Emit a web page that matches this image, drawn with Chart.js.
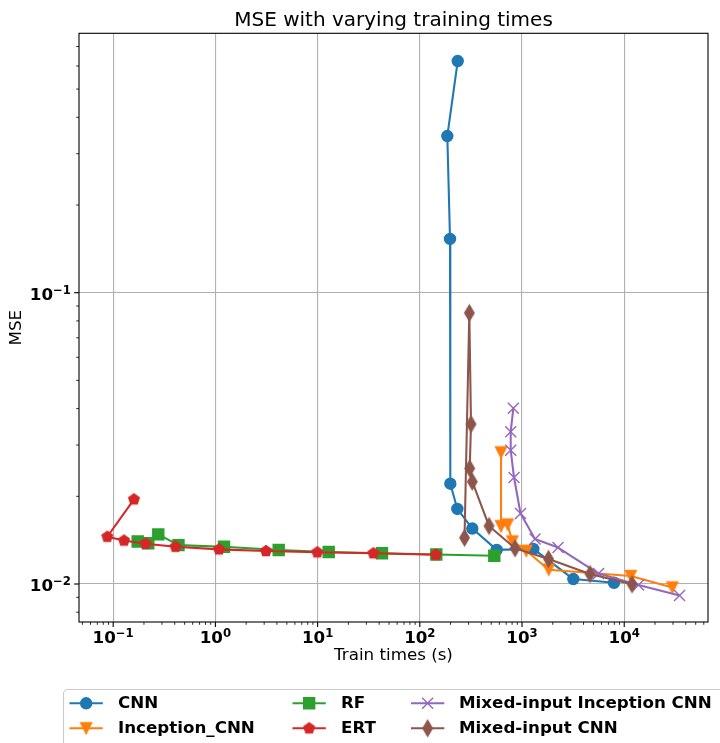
<!DOCTYPE html>
<html>
<head>
<meta charset="utf-8">
<script src="https://cdn.jsdelivr.net/npm/chart.js@4.4.0/dist/chart.umd.min.js"></script>
<style>
  html, body { margin: 0; padding: 0; background: #ffffff; }
  #wrap { width: 720px; height: 743px; position: relative; overflow: hidden; }
</style>
</head>
<body>
<div id="wrap"><canvas id="chart" width="720" height="743"></canvas></div>
<script>
// Training time (seconds) and test MSE for each model
const cnnTime     = [234.9, 185.8, 197.5, 198.8, 232.8, 326.3, 565.5, 1290, 3177, 7943];
const cnnMse      = [0.624, 0.345, 0.153, 0.0221, 0.0181, 0.0155, 0.0131, 0.0132, 0.0104, 0.0101];

const incTime     = [623, 623, 724, 804, 1101, 1825, 11580, 29540];
const incMse      = [0.0283, 0.0158, 0.0160, 0.0140, 0.0130, 0.0112, 0.01065, 0.00973];

const rfTime      = [0.1737, 0.2204, 0.2763, 0.4355, 1.214, 4.163, 12.84, 42.66, 145.0, 535.6];
const rfMse       = [0.0140, 0.0138, 0.0148, 0.0136, 0.01343, 0.01308, 0.01288, 0.01275, 0.01263, 0.0125];

const ertTime     = [0.1598, 0.08755, 0.1276, 0.207, 0.4071, 1.084, 3.127, 9.934, 35.08, 144.0];
const ertMse      = [0.01953, 0.01453, 0.0141, 0.01375, 0.01343, 0.01315, 0.01298, 0.01285, 0.01275, 0.01261];

const mixIncTime  = [822, 775, 775, 835, 967, 1340, 2250, 5605, 13800, 34750];
const mixIncMse   = [0.0401, 0.0333, 0.0288, 0.0232, 0.01746, 0.01427, 0.01334, 0.01086, 0.00992, 0.00913];

const mixCnnTime  = [273.8, 305.0, 316.9, 307.8, 326.3, 475.3, 854.1, 1817, 4628, 11920];
const mixCnnMse   = [0.01441, 0.0852, 0.0354, 0.02495, 0.02245, 0.01582, 0.01326, 0.01219, 0.01082, 0.00998];

// Labelled decade ticks: base and exponent
const xTickValues = [0.1, 1, 10, 100, 1000, 10000];
const xTickExps   = ['\u22121', '0', '1', '2', '3', '4'];
const yTickValues = [0.01, 0.1];
const yTickExps   = ['\u22122', '\u22121'];
const tickBase    = '10';

const FONT = 'DejaVu Sans';
const FS = 16.7;
const SUP = 11.7;

function zip(xs, ys) { return xs.map((x, i) => ({ x: x, y: ys[i] })); }

function isDecade(v) {
  const l = Math.log10(v);
  return Math.abs(l - Math.round(l)) < 1e-9;
}

// Major (10^n) and minor (k*10^n) tick values between lo and hi
function logTicks(lo, hi) {
  const out = [];
  for (let e = Math.floor(Math.log10(lo)) - 1; e <= Math.ceil(Math.log10(hi)); e++) {
    for (let k = 1; k <= 9; k++) {
      const v = k * Math.pow(10, e);
      if (v >= lo && v <= hi) out.push(v);
    }
  }
  return out;
}

function expFor(values, exps, v) {
  const i = values.findIndex(t => Math.abs(t - v) / t < 1e-9);
  return i >= 0 ? exps[i] : null;
}

// Small canvases for marker shapes Chart.js does not provide
function markerCanvas(color, halfW, halfH, path) {
  const lw = 1.4;
  const w = Math.ceil(2 * (halfW + lw)) + 2;
  const h = Math.ceil(2 * (halfH + lw)) + 2;
  const c = document.createElement('canvas');
  c.width = w; c.height = h;
  const g = c.getContext('2d');
  g.translate(w / 2, h / 2);
  g.fillStyle = color; g.strokeStyle = color;
  g.lineWidth = lw; g.lineJoin = 'miter';
  g.beginPath(); path(g); g.closePath();
  g.fill(); g.stroke();
  return c;
}
const MS = 11; // marker size in px
const triDown = markerCanvas('#ff7f0e', MS / 2, MS / 2, g => {
  g.moveTo(0, MS / 2); g.lineTo(-MS / 2, -MS / 2); g.lineTo(MS / 2, -MS / 2);
});
const pentagon = markerCanvas('#d62728', MS / 2, MS / 2, g => {
  for (let k = 0; k < 5; k++) {
    const a = -Math.PI / 2 + k * 2 * Math.PI / 5;
    const px = (MS / 2) * Math.cos(a), py = (MS / 2) * Math.sin(a);
    if (k === 0) g.moveTo(px, py); else g.lineTo(px, py);
  }
});
const hh = MS * Math.SQRT1_2, hw = 0.6 * hh;
const thinDiamond = markerCanvas('#8c564b', hw, hh, g => {
  g.moveTo(0, -hh); g.lineTo(hw, 0); g.lineTo(0, hh); g.lineTo(-hw, 0);
});

function series(label, xs, ys, color, style, radius, order) {
  return {
    label: label,
    data: zip(xs, ys),
    borderColor: color,
    backgroundColor: color,
    borderWidth: 2.08,
    borderJoinStyle: 'round',
    pointStyle: style,
    pointRadius: radius,
    pointHoverRadius: radius,
    pointBorderWidth: 1.4,
    pointBorderColor: color,
    pointBackgroundColor: color,
    tension: 0,
    order: order
  };
}

const datasets = [
  series('CNN', cnnTime, cnnMse, '#1f77b4', 'circle', MS / 2, 6),
  series('Inception_CNN', incTime, incMse, '#ff7f0e', triDown, MS / 2, 5),
  series('RF', rfTime, rfMse, '#2ca02c', 'rect', MS * Math.SQRT1_2, 4),
  series('ERT', ertTime, ertMse, '#d62728', pentagon, MS / 2, 3),
  series('Mixed-input Inception CNN', mixIncTime, mixIncMse, '#9467bd', 'crossRot', MS * Math.SQRT1_2, 2),
  series('Mixed-input CNN', mixCnnTime, mixCnnMse, '#8c564b', thinDiamond, MS / 2, 1)
];

// Width of "10" plus a superscript exponent
function powerWidth(ctx, exp) {
  ctx.font = 'bold ' + FS + 'px "' + FONT + '"';
  const wb = ctx.measureText(tickBase).width;
  ctx.font = 'bold ' + SUP + 'px "' + FONT + '"';
  const we = ctx.measureText(exp).width;
  return { wb: wb, we: we, total: wb + we };
}
function drawPower(ctx, exp, left, baseline) {
  const m = powerWidth(ctx, exp);
  ctx.textAlign = 'left';
  ctx.textBaseline = 'alphabetic';
  ctx.font = 'bold ' + FS + 'px "' + FONT + '"';
  ctx.fillText(tickBase, left, baseline);
  ctx.font = 'bold ' + SUP + 'px "' + FONT + '"';
  ctx.fillText(exp, left + m.wb, baseline - 6);
}

// Axes frame, outward tick marks and decade labels
const framePlugin = {
  id: 'frameAndTicks',
  afterDatasetsDraw(chart) {
    const { ctx, chartArea: a } = chart;
    ctx.save();
    ctx.strokeStyle = '#000';
    ctx.fillStyle = '#000';
    ctx.lineWidth = 1.1;
    ctx.strokeRect(a.left, a.top, a.right - a.left, a.bottom - a.top);
    const xs = chart.scales.x, ys = chart.scales.y;
    xs.ticks.forEach(t => {
      const p = xs.getPixelForValue(t.value);
      const major = isDecade(t.value);
      ctx.lineWidth = major ? 1.1 : 0.83;
      ctx.beginPath();
      ctx.moveTo(p, a.bottom);
      ctx.lineTo(p, a.bottom + (major ? 4.9 : 2.8));
      ctx.stroke();
      const e = expFor(xTickValues, xTickExps, t.value);
      if (e !== null) {
        const m = powerWidth(ctx, e);
        drawPower(ctx, e, p - m.total / 2, a.bottom + 20.5);
      }
    });
    ys.ticks.forEach(t => {
      const p = ys.getPixelForValue(t.value);
      const major = isDecade(t.value);
      ctx.lineWidth = major ? 1.1 : 0.83;
      ctx.beginPath();
      ctx.moveTo(a.left, p);
      ctx.lineTo(a.left - (major ? 4.9 : 2.8), p);
      ctx.stroke();
      const e = expFor(yTickValues, yTickExps, t.value);
      if (e !== null) {
        const m = powerWidth(ctx, e);
        drawPower(ctx, e, a.left - 8 - m.total, p + 7);
      }
    });
    ctx.restore();
  }
};

// Three-column legend below the axes
const legendPlugin = {
  id: 'columnLegend',
  afterDraw(chart) {
    const ctx = chart.ctx;
    const handleX = [69.5, 292.5, 411];
    const textX = [118, 341, 459];
    const rowY = [703.3, 728.3];
    ctx.save();
    ctx.beginPath();
    if (ctx.roundRect) ctx.roundRect(63.5, 689.5, 700, 80, 4);
    else ctx.rect(63.5, 689.5, 700, 80);
    ctx.fillStyle = 'rgba(255,255,255,0.8)';
    ctx.fill();
    ctx.strokeStyle = '#cccccc';
    ctx.lineWidth = 1.1;
    ctx.stroke();
    chart.data.datasets.forEach((ds, i) => {
      const col = Math.floor(i / 2), row = i % 2;
      const x0 = handleX[col], x1 = x0 + 33.3, y = rowY[row];
      ctx.strokeStyle = ds.borderColor;
      ctx.lineWidth = ds.borderWidth;
      ctx.beginPath(); ctx.moveTo(x0, y); ctx.lineTo(x1, y); ctx.stroke();
      const cx = (x0 + x1) / 2;
      const st = ds.pointStyle, r = ds.pointRadius;
      ctx.fillStyle = ds.backgroundColor;
      ctx.lineWidth = ds.pointBorderWidth;
      if (typeof st === 'object') {
        ctx.drawImage(st, cx - st.width / 2, y - st.height / 2);
      } else if (st === 'circle') {
        ctx.beginPath(); ctx.arc(cx, y, r, 0, Math.PI * 2); ctx.fill(); ctx.stroke();
      } else if (st === 'rect') {
        const s = r * Math.SQRT1_2;
        ctx.beginPath(); ctx.rect(cx - s, y - s, 2 * s, 2 * s); ctx.fill(); ctx.stroke();
      } else if (st === 'crossRot') {
        const s = r * Math.SQRT1_2;
        ctx.beginPath();
        ctx.moveTo(cx - s, y - s); ctx.lineTo(cx + s, y + s);
        ctx.moveTo(cx - s, y + s); ctx.lineTo(cx + s, y - s);
        ctx.stroke();
      }
      ctx.fillStyle = '#000';
      ctx.font = 'bold ' + FS + 'px "' + FONT + '"';
      ctx.textBaseline = 'middle';
      ctx.textAlign = 'left';
      ctx.fillText(ds.label, textX[col], y);
    });
    ctx.restore();
  }
};

Chart.defaults.font.family = FONT;
Chart.defaults.color = '#000';

new Chart(document.getElementById('chart'), {
  type: 'line',
  data: { datasets: datasets },
  plugins: [framePlugin, legendPlugin],
  options: {
    responsive: false,
    animation: false,
    events: [],
    layout: { padding: { top: 0, left: 0, right: 12, bottom: 0 } },
    plugins: {
      legend: { display: false },
      tooltip: { enabled: false },
      title: {
        display: true,
        text: 'MSE with varying training times',
        fullSize: false,
        color: '#000',
        font: { family: FONT, size: 20, weight: 'normal', lineHeight: 1.2 },
        padding: { top: 8.4, bottom: 0.9 }
      }
    },
    scales: {
      x: {
        type: 'logarithmic',
        bounds: 'data',
        min: 0.0463,
        max: 66000,
        afterBuildTicks(scale) { scale.ticks = logTicks(scale.min, scale.max).map(v => ({ value: v })); },
        afterFit(scale) { scale.height = 121; },
        border: { display: false },
        grid: {
          drawTicks: false,
          lineWidth: 1.1,
          color: c => (c.tick && isDecade(c.tick.value)) ? '#b0b0b0' : 'rgba(0,0,0,0)'
        },
        ticks: { display: false, autoSkip: false, maxRotation: 0, minRotation: 0 },
        title: {
          display: true,
          text: 'Train times (s)',
          color: '#000',
          font: { family: FONT, size: FS, weight: 'normal' },
          padding: { top: 0, bottom: 77 }
        }
      },
      y: {
        type: 'logarithmic',
        bounds: 'data',
        min: 0.007406,
        max: 0.7771,
        afterBuildTicks(scale) { scale.ticks = logTicks(scale.min, scale.max).map(v => ({ value: v })); },
        afterFit(scale) { scale.width = 79; },
        border: { display: false },
        grid: {
          drawTicks: false,
          lineWidth: 1.1,
          color: c => (c.tick && isDecade(c.tick.value)) ? '#b0b0b0' : 'rgba(0,0,0,0)'
        },
        ticks: { display: false, autoSkip: false },
        title: {
          display: true,
          text: 'MSE',
          color: '#000',
          font: { family: FONT, size: FS, weight: 'normal' },
          padding: { top: 7, bottom: 0 }
        }
      }
    }
  }
});
</script>
</body>
</html>
